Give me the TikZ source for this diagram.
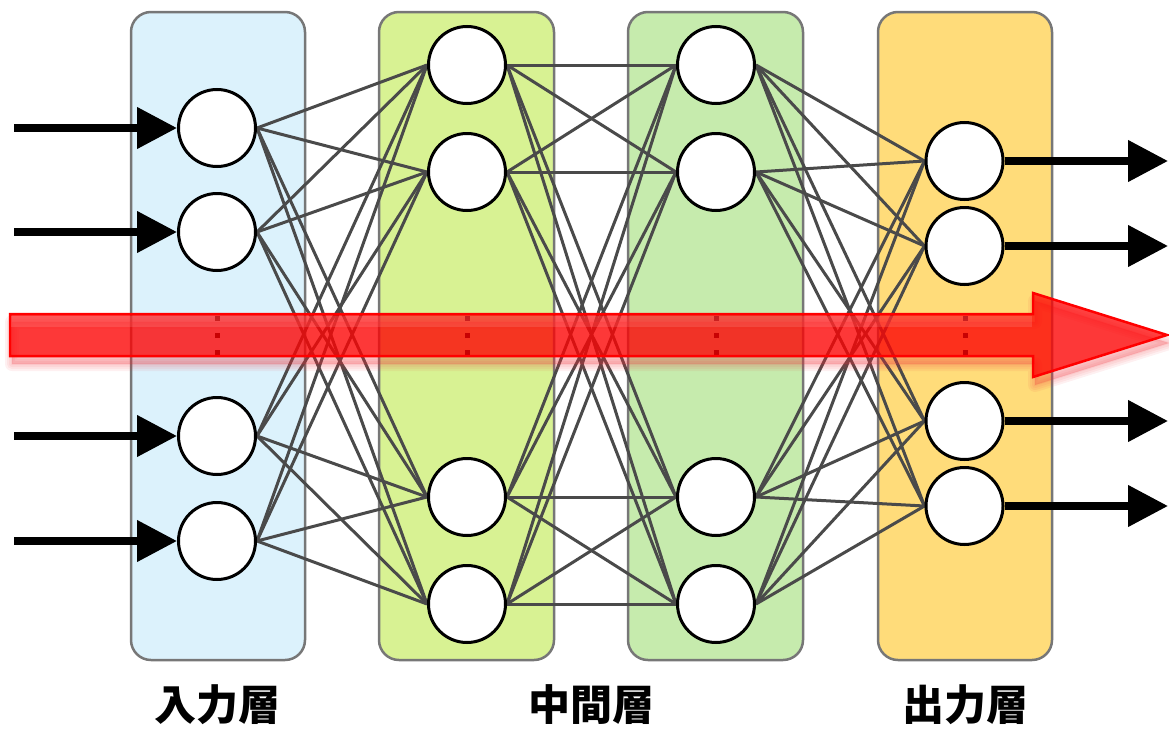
\documentclass[tikz,border=0pt]{standalone}
\usepackage{fontspec}
\newfontfamily\cjk{Noto Sans CJK JP}
\usetikzlibrary{arrows.meta}
\definecolor{boxgrey}{HTML}{777777}
\definecolor{linkgrey}{HTML}{4A4A4A}
\definecolor{inputfill}{HTML}{DCF2FC}
\definecolor{hidafill}{HTML}{D8F293}
\definecolor{hidbfill}{HTML}{C6EBAD}
\definecolor{outputfill}{HTML}{FFDC7A}
\definecolor{flowred}{HTML}{FF0000}
\definecolor{glowred}{HTML}{F03038}
\pgfdeclarelayer{boxes}
\pgfdeclarelayer{edges}
\pgfsetlayers{boxes,edges,main}
\begin{document}
\begin{tikzpicture}[x=1pt,y=-1pt,
  layerbox/.style={draw=boxgrey, line width=2.5pt, rounded corners=20pt},
  neuron/.style={circle, draw=black, line width=3pt, fill=white,
    minimum size=77pt, inner sep=0pt},
  link/.style={draw=linkgrey, line width=3pt},
  feed/.style={line width=7.5pt, -{Triangle[length=40pt,width=40pt]}},
  vdot/.style={fill=black},
  layerlabel/.style={font=\cjk\bfseries\fontsize{42}{50}\selectfont, inner sep=0pt},
  flow/.style={draw=red, line width=2.5pt, fill=flowred, fill opacity=0.72},
  glow/.style={draw=glowred, line join=round, draw opacity=0.07, fill=glowred, fill opacity=0.07}]
\useasboundingbox (0,0) rectangle (1169,728);

% neurons of each layer
\foreach \y [count=\k] in {128,232,436,541}
  \node[neuron] (i\k) at (217,\y) {};
\foreach \y [count=\k] in {65,172,497,604}
  \node[neuron] (a\k) at (467,\y) {};
\foreach \y [count=\k] in {65,172,497,604}
  \node[neuron] (b\k) at (716,\y) {};
\foreach \y [count=\k] in {161,246,421,506}
  \node[neuron] (o\k) at (964.5,\y) {};

% layer panels
\begin{pgfonlayer}{boxes}
  \draw[layerbox, fill=inputfill]  (131,12) rectangle (305,660);
  \draw[layerbox, fill=hidafill]   (379,12) rectangle (554,660);
  \draw[layerbox, fill=hidbfill]   (628,12) rectangle (803,660);
  \draw[layerbox, fill=outputfill] (878,12) rectangle (1052,660);
\end{pgfonlayer}

% full connections between consecutive layers
\begin{pgfonlayer}{edges}
  \foreach \s in {1,...,4}
    \foreach \t in {1,...,4} {
      \draw[link] (i\s.east) -- (a\t.west);
      \draw[link] (a\s.east) -- (b\t.west);
      \draw[link] (b\s.east) -- (o\t.west);
    }
\end{pgfonlayer}

% vertical ellipses inside each layer
\foreach \x in {217,467,716,965}
  \foreach \y in {318,335,352}
    \fill[vdot] (\x-2.5,\y-2.5) rectangle (\x+2.5,\y+2.5);

% inputs and outputs
\foreach \k/\y in {1/128,2/232,3/436,4/541} {
  \coordinate (in\k) at (14,\y);
  \draw[feed] (in\k) -- (i\k.west);
}
\foreach \k/\y in {1/161,2/246,3/421,4/506} {
  \coordinate (out\k) at (1168,\y);
  \draw[feed] (o\k.east) -- (out\k);
}

% soft shadow under the propagation arrow
\foreach \w in {14,10,6,2}
  \path[glow, line width=\w pt, shift={(2,8)}]
    (10,314) -- (1033,314) -- (1033,293) -- (1167,335)
    -- (1033,377) -- (1033,356) -- (10,356) -- cycle;

% direction of propagation
\path[flow] (10,314) -- (1033,314) -- (1033,293) -- (1167,335)
  -- (1033,377) -- (1033,356) -- (10,356) -- cycle;
% glossy highlight along the top of the shaft
\fill[white, opacity=0.12] (11,316) rectangle (1032,327);

% captions
\node[layerlabel] (lin)  at (217,705) {入力層};
\node[layerlabel] (lmid) at (591,705) {中間層};
\node[layerlabel] (lout) at (965,705) {出力層};
\end{tikzpicture}
\end{document}
